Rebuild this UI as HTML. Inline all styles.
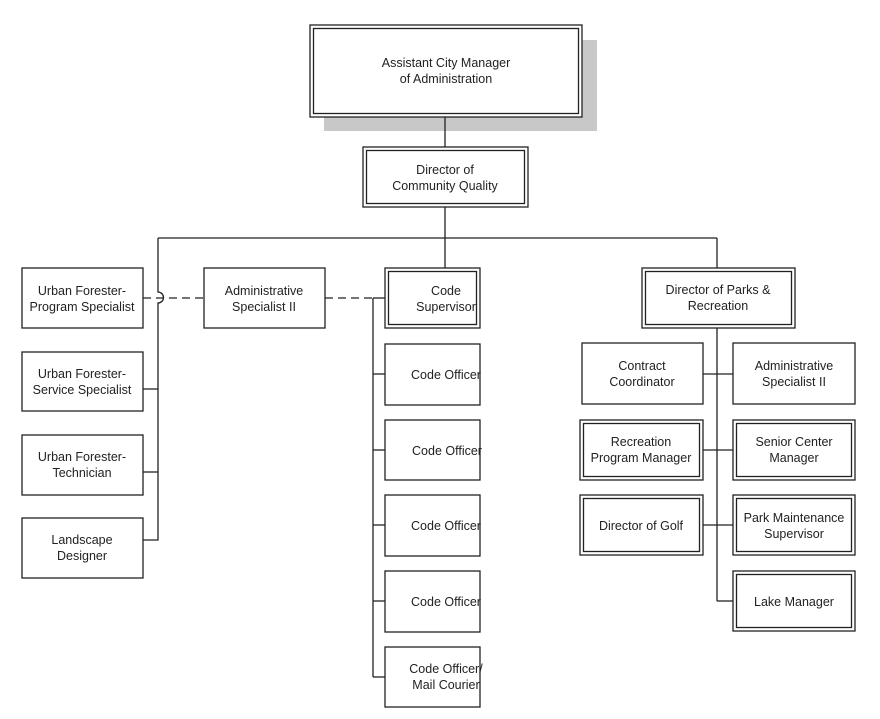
<!DOCTYPE html>
<html><head><meta charset="utf-8"><style>
html,body{margin:0;padding:0;background:#fff;}
svg{display:block;}
text{font-family:"Liberation Sans",Arial,sans-serif;font-size:12.5px;fill:#222;text-anchor:middle;}
</style></head><body>
<svg width="880" height="719" viewBox="0 0 880 719" xmlns="http://www.w3.org/2000/svg">
<g fill="none" stroke="#222" stroke-width="1.3">
<!-- shadow -->
<rect x="324" y="40" width="273" height="91" fill="#c8c8c8" stroke="none"/>
<!-- lines -->
<line x1="445" y1="117" x2="445" y2="147"/>
<line x1="445" y1="207" x2="445" y2="268"/>
<line x1="158" y1="238" x2="717" y2="238"/>
<line x1="717" y1="238" x2="717" y2="268"/>
<path d="M158 238 V292 A5 5 0 0 1 158 303 V540 H143"/>
<line x1="143" y1="389" x2="158" y2="389"/>
<line x1="143" y1="472" x2="158" y2="472"/>
<line x1="373" y1="298" x2="373" y2="677"/>
<line x1="373" y1="298" x2="385" y2="298"/>
<line x1="373" y1="374" x2="385" y2="374"/>
<line x1="373" y1="450" x2="385" y2="450"/>
<line x1="373" y1="525" x2="385" y2="525"/>
<line x1="373" y1="601" x2="385" y2="601"/>
<line x1="373" y1="677" x2="385" y2="677"/>
<line x1="717" y1="328" x2="717" y2="601"/>
<line x1="703" y1="374" x2="733" y2="374"/>
<line x1="703" y1="450" x2="733" y2="450"/>
<line x1="703" y1="525" x2="733" y2="525"/>
<line x1="717" y1="601" x2="733" y2="601"/>
<g stroke-dasharray="8,5">
<line x1="143" y1="298" x2="204" y2="298"/>
<line x1="325" y1="298" x2="373" y2="298"/>
</g>
</g>
<g fill="#fff" stroke="#222" stroke-width="1.3">
<!-- double boxes: outer + inner -->
<rect x="310" y="25" width="272" height="92"/><rect x="313.5" y="28.5" width="265" height="85"/>
<rect x="363" y="147" width="165" height="60"/><rect x="366.5" y="150.5" width="158" height="53"/>
<rect x="385" y="268" width="95" height="60"/><rect x="388.5" y="271.5" width="88" height="53"/>
<rect x="642" y="268" width="153" height="60"/><rect x="645.5" y="271.5" width="146" height="53"/>
<rect x="580" y="420" width="123" height="60"/><rect x="583.5" y="423.5" width="116" height="53"/>
<rect x="733" y="420" width="122" height="60"/><rect x="736.5" y="423.5" width="115" height="53"/>
<rect x="580" y="495" width="123" height="60"/><rect x="583.5" y="498.5" width="116" height="53"/>
<rect x="733" y="495" width="122" height="60"/><rect x="736.5" y="498.5" width="115" height="53"/>
<rect x="733" y="571" width="122" height="60"/><rect x="736.5" y="574.5" width="115" height="53"/>
<!-- single boxes -->
<rect x="22" y="268" width="121" height="60"/>
<rect x="22" y="352" width="121" height="59"/>
<rect x="22" y="435" width="121" height="60"/>
<rect x="22" y="518" width="121" height="60"/>
<rect x="204" y="268" width="121" height="60"/>
<rect x="385" y="344" width="95" height="61"/>
<rect x="385" y="420" width="95" height="60"/>
<rect x="385" y="495" width="95" height="61"/>
<rect x="385" y="571" width="95" height="61"/>
<rect x="385" y="647" width="95" height="60"/>
<rect x="582" y="343" width="121" height="61"/>
<rect x="733" y="343" width="122" height="61"/>
</g>
<text x="446" y="67">Assistant City Manager</text><text x="446" y="83">of Administration</text>
<text x="445" y="174">Director of</text><text x="445" y="190">Community Quality</text>
<text x="82" y="295">Urban Forester-</text><text x="82" y="311">Program Specialist</text>
<text x="82" y="378">Urban Forester-</text><text x="82" y="394">Service Specialist</text>
<text x="82" y="461">Urban Forester-</text><text x="82" y="477">Technician</text>
<text x="82" y="544">Landscape</text><text x="82" y="560">Designer</text>
<text x="264" y="295">Administrative</text><text x="264" y="311">Specialist II</text>
<text x="446" y="295">Code</text><text x="446" y="311">Supervisor</text>
<text x="446" y="379">Code Officer</text>
<text x="447" y="455">Code Officer</text>
<text x="446" y="530">Code Officer</text>
<text x="446" y="606">Code Officer</text>
<text x="446" y="673">Code Officer/</text><text x="446" y="689">Mail Courier</text>
<text x="718" y="294">Director of Parks &amp;</text><text x="718" y="310">Recreation</text>
<text x="642" y="370">Contract</text><text x="642" y="386">Coordinator</text>
<text x="794" y="370">Administrative</text><text x="794" y="386">Specialist II</text>
<text x="641" y="446">Recreation</text><text x="641" y="462">Program Manager</text>
<text x="794" y="446">Senior Center</text><text x="794" y="462">Manager</text>
<text x="641" y="530">Director of Golf</text>
<text x="794" y="522">Park Maintenance</text><text x="794" y="538">Supervisor</text>
<text x="794" y="606">Lake Manager</text>
</g>
</svg>
</body></html>
